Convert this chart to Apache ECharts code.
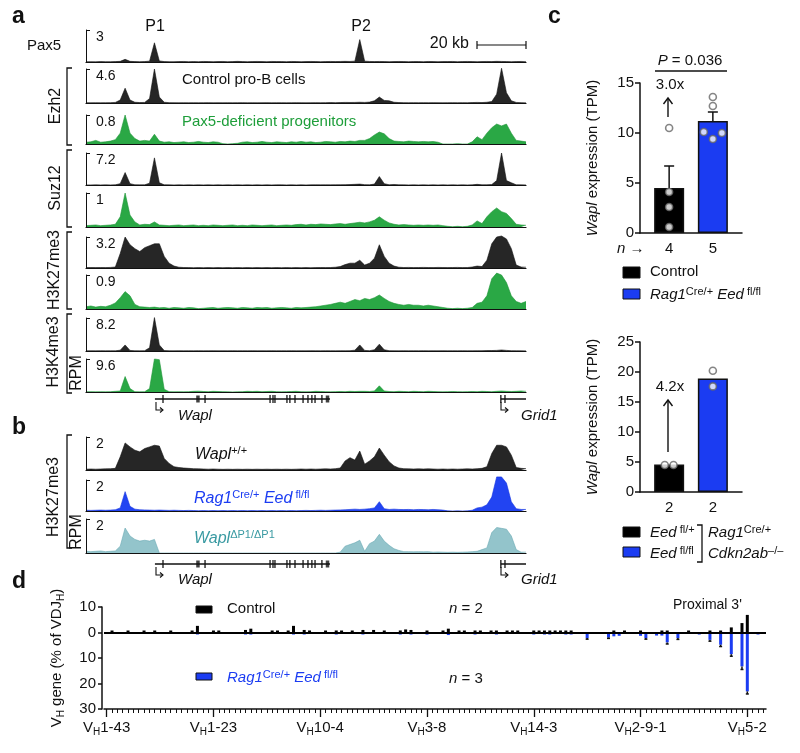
<!DOCTYPE html>
<html>
<head>
<meta charset="utf-8">
<script src="https://cdn.jsdelivr.net/npm/echarts@6/dist/echarts.min.js"></script>
<style>
html, body { margin: 0; padding: 0; background: #fff; }
#container { width: 800px; height: 753px; }
</style>
</head>
<body>
<div id="container"></div>
<script>
var FONT = "'Liberation Sans', Arial, Helvetica, sans-serif";
var BIN_KB = 2;

// ---- panel a: coverage (RPM), one value per 2-kb bin ----
var pax5Track = [
  0.02,0.03,0.02,0.04,0.03,0.03,0.04,0.06,0.25,0.06,
  0.04,0.03,0.04,0.08,1.8,0.1,0.04,0.03,0.03,0.04,
  0.05,0.03,0.04,0.03,0.05,0.04,0.03,0.04,0.05,0.03,
  0.04,0.06,0.04,0.03,0.04,0.05,0.04,0.03,0.05,0.04,
  0.04,0.03,0.05,0.04,0.03,0.04,0.05,0.04,0.03,0.04,
  0.05,0.04,0.05,0.06,0.05,0.08,2.1,0.08,0.05,0.04,
  0.05,0.04,0.03,0.04,0.05,0.04,0.03,0.04,0.04,0.03,
  0.05,0.04,0.03,0.04,0.04,0.05,0.03,0.04,0.05,0.04,
  0.03,0.04,0.05,0.04,0.06,0.05,0.04,0.03,0.04,0.05,
  0.04];
var ezh2Ctrl = [
  0.03,0.03,0.04,0.03,0.04,0.05,0.08,0.4,2.0,0.4,
  0.1,0.06,0.08,0.6,4.6,0.8,0.1,0.05,0.04,0.03,
  0.04,0.03,0.04,0.03,0.04,0.05,0.03,0.04,0.03,0.04,
  0.03,0.04,0.05,0.03,0.04,0.03,0.04,0.05,0.03,0.04,
  0.04,0.03,0.04,0.05,0.04,0.03,0.04,0.05,0.04,0.05,
  0.06,0.05,0.06,0.08,0.07,0.08,0.1,0.08,0.12,0.3,
  0.8,0.35,0.3,0.1,0.06,0.05,0.04,0.05,0.04,0.05,
  0.04,0.05,0.04,0.03,0.04,0.05,0.04,0.05,0.04,0.06,
  0.08,0.06,0.1,0.2,1.2,4.7,1.4,0.3,0.08,0.05,
  0.04];
var ezh2Pax5 = [
  0.05,0.06,0.1,0.05,0.06,0.08,0.12,0.3,0.8,0.3,
  0.15,0.08,0.1,0.08,0.27,0.08,0.05,0.06,0.04,0.05,
  0.06,0.04,0.05,0.07,0.05,0.04,0.06,0.05,0.01,0.0,
  0.01,0.02,0.05,0.06,0.04,0.05,0.07,0.05,0.04,0.06,
  0.05,0.04,0.06,0.05,0.07,0.05,0.06,0.04,0.05,0.07,
  0.06,0.05,0.07,0.06,0.08,0.07,0.1,0.1,0.15,0.25,
  0.33,0.28,0.15,0.08,0.07,0.06,0.08,0.07,0.06,0.07,
  0.06,0.07,0.05,0.0,0.0,0.0,0.01,0.0,0.0,0.06,
  0.2,0.12,0.3,0.45,0.55,0.5,0.55,0.3,0.1,0.08,
  0.06];
var suz12Ctrl = [
  0.02,0.02,0.03,0.02,0.03,0.02,0.04,0.3,2.8,0.3,
  0.05,0.03,0.04,0.4,6.1,0.5,0.05,0.03,0.02,0.03,
  0.02,0.03,0.02,0.03,0.02,0.03,0.02,0.03,0.02,0.03,
  0.02,0.03,0.02,0.03,0.02,0.03,0.02,0.03,0.02,0.03,
  0.03,0.02,0.03,0.02,0.03,0.02,0.03,0.04,0.03,0.04,
  0.03,0.05,0.06,0.08,0.1,0.15,0.2,0.08,0.05,0.2,
  1.9,0.3,0.05,0.12,0.04,0.03,0.02,0.03,0.02,0.03,
  0.02,0.03,0.02,0.03,0.02,0.03,0.02,0.03,0.02,0.03,
  0.15,0.04,0.05,0.1,1.0,7.2,1.0,0.5,0.05,0.03,
  0.02];
var suz12Pax5 = [
  0.04,0.05,0.06,0.04,0.05,0.06,0.08,0.3,1.0,0.35,
  0.15,0.06,0.08,0.07,0.15,0.06,0.05,0.04,0.05,0.06,
  0.04,0.05,0.06,0.04,0.05,0.04,0.06,0.05,0.04,0.05,
  0.06,0.04,0.05,0.04,0.06,0.05,0.04,0.05,0.06,0.04,
  0.05,0.06,0.05,0.07,0.08,0.06,0.08,0.07,0.09,0.08,
  0.07,0.09,0.1,0.08,0.1,0.12,0.14,0.12,0.15,0.2,
  0.3,0.2,0.12,0.08,0.06,0.07,0.06,0.05,0.06,0.05,
  0.06,0.05,0.06,0.04,0.02,0.01,0.02,0.01,0.02,0.06,
  0.18,0.1,0.3,0.45,0.56,0.45,0.4,0.25,0.08,0.06,
  0.05];
var k27Ctrl = [
  0.04,0.05,0.04,0.05,0.04,0.06,0.1,1.5,3.2,2.4,
  2.0,1.7,2.1,2.3,2.5,2.5,1.2,0.5,0.2,0.08,
  0.05,0.04,0.03,0.04,0.03,0.04,0.03,0.04,0.03,0.04,
  0.03,0.04,0.03,0.04,0.03,0.04,0.03,0.04,0.03,0.04,
  0.03,0.04,0.03,0.04,0.03,0.04,0.03,0.04,0.05,0.04,
  0.05,0.08,0.15,0.35,0.5,0.5,0.8,0.3,0.5,1.0,
  2.4,1.2,0.5,0.2,0.08,0.05,0.06,0.04,0.05,0.06,
  0.05,0.04,0.06,0.05,0.04,0.05,0.06,0.04,0.05,0.1,
  0.2,0.15,0.8,2.5,3.2,3.3,3.0,2.0,0.3,0.1,
  0.08];
var k27Pax5 = [
  0.06,0.08,0.05,0.07,0.06,0.1,0.16,0.3,0.46,0.35,
  0.12,0.06,0.05,0.04,0.05,0.03,0.04,0.02,0.04,0.03,
  0.02,0.04,0.03,0.01,0.02,0.03,0.04,0.02,0.03,0.04,
  0.03,0.02,0.04,0.03,0.02,0.04,0.03,0.04,0.02,0.03,
  0.04,0.03,0.02,0.04,0.03,0.04,0.05,0.06,0.08,0.1,
  0.12,0.15,0.18,0.15,0.2,0.25,0.22,0.28,0.25,0.3,
  0.37,0.28,0.2,0.15,0.12,0.1,0.12,0.1,0.1,0.08,
  0.1,0.08,0.06,0.04,0.02,0.01,0.02,0.01,0.02,0.04,
  0.15,0.18,0.35,0.8,0.95,0.9,0.7,0.35,0.2,0.15,
  0.2];
var k4Ctrl = [
  0.05,0.06,0.05,0.07,0.05,0.06,0.05,0.2,1.5,0.15,
  0.06,0.05,0.07,0.8,8.3,1.5,0.1,0.06,0.05,0.07,
  0.05,0.06,0.05,0.07,0.05,0.06,0.07,0.05,0.06,0.05,
  0.07,0.05,0.06,0.05,0.07,0.05,0.06,0.05,0.07,0.05,
  0.06,0.05,0.07,0.05,0.06,0.05,0.07,0.06,0.05,0.07,
  0.06,0.05,0.07,0.06,0.08,0.2,1.5,0.15,0.08,0.3,
  1.7,0.3,0.08,0.06,0.05,0.07,0.05,0.06,0.05,0.07,
  0.05,0.06,0.05,0.07,0.05,0.06,0.05,0.07,0.05,0.06,
  0.07,0.08,0.1,0.12,0.15,0.25,0.15,0.08,0.06,0.05,
  0.05];
var k4Pax5 = [
  0.05,0.1,0.05,0.08,0.05,0.1,0.2,0.3,4.5,1.0,
  0.1,0.05,0.08,1.0,9.6,9.4,0.8,0.1,0.05,0.08,
  0.05,0.1,0.2,0.25,0.15,0.1,0.2,0.15,0.1,0.05,
  0.02,0.05,0.1,0.2,0.15,0.2,0.1,0.15,0.2,0.1,
  0.05,0.1,0.15,0.2,0.1,0.05,0.1,0.2,0.15,0.1,
  0.05,0.1,0.15,0.1,0.2,0.15,0.2,0.2,0.15,0.3,
  1.8,0.3,0.15,0.1,0.2,0.15,0.1,0.2,0.15,0.1,
  0.2,0.15,0.1,0.05,0.1,0.15,0.1,0.05,0.1,0.15,
  0.1,0.2,0.15,0.1,0.2,0.3,0.2,0.15,0.2,0.3,
  0.2];
var scalesA = [3, 4.6, 0.8, 7.2, 1, 3.2, 0.9, 8.2, 9.6];

// ---- panel b: H3K27me3 coverage (RPM) ----
var k27WaplWt = [
  0.05,0.06,0.05,0.06,0.07,0.08,0.1,0.8,1.64,1.4,
  1.2,1.1,1.3,1.4,1.5,1.45,0.7,0.4,0.2,0.15,
  0.12,0.1,0.08,0.07,0.06,0.05,0.06,0.05,0.04,0.05,
  0.04,0.05,0.04,0.05,0.04,0.05,0.04,0.05,0.04,0.05,
  0.04,0.05,0.04,0.05,0.06,0.05,0.06,0.05,0.06,0.07,
  0.06,0.08,0.12,0.55,0.75,0.6,1.15,0.35,0.55,0.8,
  1.33,0.9,0.5,0.25,0.12,0.08,0.07,0.06,0.07,0.06,
  0.07,0.06,0.05,0.06,0.05,0.06,0.05,0.06,0.07,0.06,
  0.08,0.1,0.2,1.0,1.5,1.5,1.4,0.9,0.15,0.1,
  0.08];
var k27EedKo = [
  0.05,0.04,0.05,0.06,0.05,0.06,0.08,0.2,1.25,0.3,
  0.12,0.08,0.07,0.06,0.05,0.06,0.05,0.04,0.05,0.04,
  0.03,0.04,0.03,0.02,0.03,0.02,0.03,0.02,0.03,0.02,
  0.03,0.02,0.03,0.02,0.03,0.02,0.03,0.02,0.03,0.02,
  0.03,0.02,0.03,0.02,0.03,0.04,0.03,0.04,0.05,0.04,
  0.05,0.06,0.07,0.08,0.1,0.12,0.1,0.12,0.15,0.2,
  0.6,0.15,0.1,0.12,0.1,0.09,0.1,0.08,0.1,0.09,
  0.08,0.1,0.08,0.06,0.01,0.0,0.01,0.0,0.01,0.05,
  0.2,0.25,0.4,0.9,2.2,2.2,1.8,0.6,0.15,0.1,
  0.1];
var k27WaplDel = [
  0.1,0.08,0.1,0.12,0.08,0.1,0.12,0.4,1.47,1.0,
  0.8,0.7,0.75,0.7,0.8,0,0,0,0,0,
  0,0,0,0,0,0,0,0,0,0,
  0,0,0,0,0,0,0,0,0,0,
  0,0,0,0,0,0,0,0,0,0,
  0,0,0.05,0.4,0.5,0.6,0.75,0.1,0.55,0.7,
  1.1,0.7,0.45,0.25,0.15,0.08,0.08,0.07,0.08,0.07,
  0.08,0.05,0.06,0.05,0.04,0.05,0.04,0.05,0.06,0.08,
  0.1,0.2,0.3,1.2,1.5,1.45,1.4,1.0,0.2,0.05,
  0.05];
var scalesB = [2, 2, 2];

// ---- gene models (kb) ----
var waplBody = [28.2, 99.8];
var waplExons = [31.5, 48.7, 75.3, 76.5, 77.3, 82.2, 83.4, 85.5, 88.8, 90.8, 92.4, 93.7, 96.5];
var waplWideExons = [45.8, 98.8];
var grid1Body = [169.7, 180];
var grid1Exons = [169.7, 171.4];

// ---- panel c ----
var cTopMeans = [4.5, 11.2];
var cTopSemUpper = [6.7, 12.1];
var cTopN = [4, 5];
var cTopCtrlPts = [0.6, 2.6, 4.1, 10.5];
var cTopEedPts = [10.1, 9.4, 10.0, 12.7, 13.6];
var cBotMeans = [4.6, 18.9];
var cBotN = [2, 2];
var cBotCtrlPts = [4.5, 4.5];
var cBotEedPts = [20.2, 17.6];

// ---- panel d: V_H usage (% of VDJ_H), [gene index, value] ----
var NUM_VH = 124;
var dTickLabels = ['1-43', '1-23', '10-4', '3-8', '14-3', '2-9-1', '5-2'];
var ctrlBars = [[1,0.2],[4,0.5],[7,0.2],[9,0.2],[12,0.1],[16,0.3],[17,2.6],[20,0.5],[21,0.5],[26,1.0],
  [27,1.5],[31,0.2],[32,0.2],[34,0.2],[35,2.6],[37,1.0],[38,0.8],[41,0.3],[43,0.8],[44,0.6],
  [46,0.3],[48,1.0],[50,1.0],[52,0.5],[55,0.8],[56,1.2],[57,1.0],[60,0.3],[63,0.3],[64,1.5],
  [66,0.2],[67,0.2],[69,0.5],[70,0.3],[72,0.5],[73,0.5],[75,0.2],[76,0.2],[77,0.2],[80,0.3],
  [81,0.4],[82,0.5],[83,0.5],[84,0.2],[85,0.3],[86,0.5],[87,0.5],[95,0.3],[97,0.2],[100,0.3],
  [104,0.3],[105,0.5],[109,0.3],[113,0.5],[115,0.5],[117,2.0],[119,3.7],[120,6.9]];
var eedBars = [[17,0.5],[26,0.5],[27,0.8],[35,0.8],[37,0.3],[43,0.3],[48,0.4],[55,0.5],[57,0.6],[60,0.8],
  [64,1.0],[69,0.4],[73,0.3],[80,0.3],[82,0.5],[83,0.8],[86,0.3],[87,0.5],[90,2.2],[94,2.0],
  [95,1.5],[96,1.3],[100,1.3],[101,2.2],[103,1.2],[104,1.2],[105,3.9],[107,2.2],[111,0.8],[113,2.9],
  [115,4.8],[117,8.5],[119,13.3],[120,23.1],[122,0.5]];
var eedErr = [[90,0.4],[94,0.3],[101,0.4],[105,0.6],[107,0.5],[113,0.5],[115,0.7],[117,0.8],[119,1.2],[120,1.0]];

// ---------------------------------------------------------------
var COL = {
  black: {fill: '#262626', line: '#111'},
  green: {fill: '#2aa845', line: '#1c9436'},
  blue: {fill: '#2244f2', line: '#1030e0'},
  teal: {fill: '#93c4cb', line: '#6aaab3'}
};
var BLUE = '#1b3cf2';

var chart = echarts.init(document.getElementById('container'), null, {renderer: 'canvas'});

var grids = [], xAxes = [], yAxes = [], series = [];

function addTrack(data, max, col, top, h) {
  var k = grids.length;
  grids.push({left: 86, width: 440, top: top, height: h, outerBoundsMode: 'none'});
  xAxes.push({gridIndex: k, type: 'value', min: 0, max: 180, z: 5,
    axisLine: {show: true, lineStyle: {color: '#111', width: 1.2}},
    axisTick: {show: false}, axisLabel: {show: false}, splitLine: {show: false}});
  yAxes.push({gridIndex: k, type: 'value', min: 0, max: max, interval: max, z: 5,
    axisLine: {show: true, lineStyle: {color: '#111', width: 1}},
    axisTick: {show: true, inside: true, length: 4, lineStyle: {color: '#111', width: 1}},
    axisLabel: {inside: true, margin: 10, showMinLabel: false, showMaxLabel: true,
      verticalAlign: 'top', fontSize: 14, fontFamily: FONT, color: '#111'},
    splitLine: {show: false}});
  series.push({type: 'line', xAxisIndex: k, yAxisIndex: k, silent: true, clip: false,
    symbol: 'none', animation: false,
    data: data.map(function (v, i) { return [i * BIN_KB, v]; }),
    lineStyle: {width: 0.6, color: col.line},
    areaStyle: {color: col.fill, opacity: 1}});
}

function addGene(top) {
  var k = grids.length;
  grids.push({left: 86, width: 440, top: top, height: 10, outerBoundsMode: 'none'});
  xAxes.push({gridIndex: k, type: 'value', min: 0, max: 180, show: false});
  yAxes.push({gridIndex: k, type: 'value', min: -1, max: 1, show: false});
  [waplBody, grid1Body].forEach(function (b) {
    series.push({type: 'line', xAxisIndex: k, yAxisIndex: k, silent: true, symbol: 'none',
      data: [[b[0], 0], [b[1], 0]], lineStyle: {color: '#111', width: 1.5}});
  });
  series.push({type: 'scatter', xAxisIndex: k, yAxisIndex: k, silent: true,
    symbol: 'rect', symbolSize: [1.6, 8], itemStyle: {color: '#111'},
    data: waplExons.concat(grid1Exons).map(function (x) { return [x, 0]; })});
  series.push({type: 'scatter', xAxisIndex: k, yAxisIndex: k, silent: true,
    symbol: 'rect', symbolSize: [3.5, 7], itemStyle: {color: '#111'},
    data: waplWideExons.map(function (x) { return [x, 0]; })});
}

var aTracks = [pax5Track, ezh2Ctrl, ezh2Pax5, suz12Ctrl, suz12Pax5, k27Ctrl, k27Pax5, k4Ctrl, k4Pax5];
var aCols = ['black', 'black', 'green', 'black', 'green', 'black', 'green', 'black', 'green'];
var aTops = [30, 69, 115, 153, 193, 237, 275, 318, 359];
var aHeights = [32, 34, 29, 32, 34, 31, 34, 33, 33];
aTracks.forEach(function (d, i) { addTrack(d, scalesA[i], COL[aCols[i]], aTops[i], aHeights[i]); });
addGene(394);

var bTracks = [k27WaplWt, k27EedKo, k27WaplDel];
var bCols = ['black', 'blue', 'teal'];
var bTops = [437, 480, 519];
var bHeights = [33, 31, 34];
bTracks.forEach(function (d, i) { addTrack(d, scalesB[i], COL[bCols[i]], bTops[i], bHeights[i]); });
addGene(559);

// ---- panel c ----
function errBarRender(capW) {
  return function (params, api) {
    var x = api.value(0);
    var p0 = api.coord([x, api.value(1)]);
    var p1 = api.coord([x, api.value(2)]);
    var st = {stroke: '#111', lineWidth: 1.5};
    return {type: 'group', children: [
      {type: 'line', shape: {x1: p0[0], y1: p0[1], x2: p1[0], y2: p1[1]}, style: st},
      {type: 'line', shape: {x1: p1[0] - capW / 2, y1: p1[1], x2: p1[0] + capW / 2, y2: p1[1]}, style: st}
    ]};
  };
}

function richAxisName() {
  return {
    i: {fontStyle: 'italic', fontSize: 15, fontFamily: FONT, color: '#111'},
    n: {fontSize: 15, fontFamily: FONT, color: '#111'}
  };
}

var BAR_X = [2, 5];
function addBarPanel(top, yMax, means, nLabels, ctrlPts, ctrlJit, eedPts, eedJit, upper) {
  var k = grids.length;
  grids.push({left: 640, width: 102, top: top, height: 150, outerBoundsMode: 'none'});
  xAxes.push({gridIndex: k, type: 'value', min: 0, max: 7,
    axisLine: {show: true, lineStyle: {color: '#111', width: 1.5}},
    axisTick: {show: false}, axisLabel: {show: false}, splitLine: {show: false}});
  yAxes.push({gridIndex: k, type: 'value', min: 0, max: yMax, interval: 5,
    name: '{i|Wapl}{n| expression (TPM)}', nameLocation: 'middle', nameRotate: 90, nameGap: 40,
    nameTextStyle: {fontSize: 15, fontFamily: FONT, color: '#111', rich: richAxisName()},
    axisLine: {show: true, lineStyle: {color: '#111', width: 1.5}},
    axisTick: {show: true, length: 5, lineStyle: {color: '#111', width: 1.5}},
    axisLabel: {fontSize: 15, fontFamily: FONT, color: '#111', margin: 6},
    splitLine: {show: false}});
  series.push({type: 'bar', xAxisIndex: k, yAxisIndex: k, barWidth: 30, silent: true,
    data: means.map(function (m, i) {
      return {value: [BAR_X[i], m], itemStyle: {color: i ? BLUE : '#000', borderColor: '#111', borderWidth: 1.5}};
    }),
    label: {show: true, position: 'bottom', distance: 8, fontSize: 15, fontFamily: FONT, color: '#111',
      formatter: function (p) { return String(nLabels[p.dataIndex]); }}});
  if (upper) {
    series.push({type: 'custom', xAxisIndex: k, yAxisIndex: k, silent: true, renderItem: errBarRender(10),
      data: means.map(function (m, i) { return [BAR_X[i], m, upper[i]]; }), z: 3});
  }
  var pts = ctrlPts.map(function (v, i) { return [BAR_X[0] + ctrlJit[i], v]; })
    .concat(eedPts.map(function (v, i) { return [BAR_X[1] + eedJit[i], v]; }));
  series.push({type: 'scatter', xAxisIndex: k, yAxisIndex: k, silent: true, z: 4,
    symbol: 'circle', symbolSize: 7, data: pts,
    itemStyle: {color: '#fff', borderColor: '#666', borderWidth: 1.6}});
}
addBarPanel(83, 15, cTopMeans, cTopN, cTopCtrlPts, [0, 0, 0, 0], cTopEedPts, [-0.62, 0, 0.62, 0, 0], cTopSemUpper);
addBarPanel(342, 25, cBotMeans, cBotN, cBotCtrlPts, [-0.3, 0.3], cBotEedPts, [0, 0], null);

// ---- panel d ----
var dK = grids.length;
grids.push({left: 104, width: 662, top: 607, height: 102, outerBoundsMode: 'none'});
var vhCats = [];
for (var g = 0; g < NUM_VH; g++) vhCats.push(g % 20 === 0 ? dTickLabels[g / 20] : '');
var dXMain = xAxes.length;
xAxes.push({gridIndex: dK, type: 'category', data: vhCats, position: 'bottom', show: true,
  axisLine: {show: true, onZero: false, lineStyle: {color: '#111', width: 1.5}},
  axisTick: {show: true, interval: 0, alignWithLabel: true, length: 4, lineStyle: {color: '#111', width: 1}},
  axisLabel: {show: true, interval: 0, margin: 10,
    formatter: function (v) { return v ? '{m|V}{s|H}{m|' + v + '}' : ''; },
    rich: {
      m: {fontSize: 15, fontFamily: FONT, color: '#111', lineHeight: 18},
      s: {fontSize: 10, fontFamily: FONT, color: '#111', lineHeight: 6, verticalAlign: 'bottom'}
    }},
  splitLine: {show: false}});
xAxes.push({gridIndex: dK, type: 'category', data: vhCats, position: 'bottom', show: true,
  axisLine: {show: false, onZero: false},
  axisTick: {show: true, alignWithLabel: true, length: 8, lineStyle: {color: '#111', width: 1.3},
    interval: function (i) { return i % 20 === 0; }},
  axisLabel: {show: false}, splitLine: {show: false}});
yAxes.push({gridIndex: dK, type: 'value', min: -30, max: 10, interval: 10, offset: 2,
  name: '{n|V}{s|H}{n| gene (% of VDJ}{s|H}{n|)}', nameLocation: 'middle', nameRotate: 90, nameGap: 36,
  nameTextStyle: {fontSize: 15, fontFamily: FONT, color: '#111', rich: {
    n: {fontSize: 15, fontFamily: FONT, color: '#111', lineHeight: 18},
    s: {fontSize: 10, fontFamily: FONT, color: '#111', lineHeight: 6, verticalAlign: 'bottom'}
  }},
  axisLine: {show: true, lineStyle: {color: '#111', width: 1.5}},
  axisTick: {show: true, length: 4, lineStyle: {color: '#111', width: 1.5}},
  axisLabel: {fontSize: 15, fontFamily: FONT, color: '#111', margin: 6,
    formatter: function (v) { return String(Math.abs(v)); }},
  splitLine: {show: false}});
var dY = yAxes.length - 1;
series.push({type: 'bar', xAxisIndex: dXMain, yAxisIndex: dY, silent: true, barWidth: 3, barGap: '-100%',
  barMinHeight: 2, itemStyle: {color: '#000'}, data: ctrlBars,
  markLine: {silent: true, symbol: 'none', label: {show: false},
    lineStyle: {color: '#000', width: 2, type: 'solid'}, data: [{yAxis: 0}]}});
series.push({type: 'bar', xAxisIndex: dXMain, yAxisIndex: dY, silent: true, barWidth: 3, barGap: '-100%',
  barMinHeight: 2, itemStyle: {color: BLUE},
  data: eedBars.map(function (d) { return [d[0], -d[1]]; })});
var eedLookup = {};
eedBars.forEach(function (d) { eedLookup[d[0]] = d[1]; });
series.push({type: 'custom', xAxisIndex: dXMain, yAxisIndex: dY, silent: true, z: 3,
  renderItem: errBarRender(3),
  data: eedErr.map(function (d) { var v = eedLookup[d[0]]; return [d[0], -v, -(v + d[1])]; })});

// ---- annotations ----
function rich(color, size) {
  size = size || 15;
  var s2 = Math.round(size * 0.7);
  return {
    n: {font: size + 'px ' + FONT, fill: color, lineHeight: size + 3},
    i: {font: 'italic ' + size + 'px ' + FONT, fill: color, lineHeight: size + 3},
    sup: {font: s2 + 'px ' + FONT, fill: color, lineHeight: 6, verticalAlign: 'top'},
    isup: {font: 'italic ' + s2 + 'px ' + FONT, fill: color, lineHeight: 6, verticalAlign: 'top'}
  };
}
function T(x, y, text, o) {
  o = o || {};
  var color = o.color || '#111';
  var size = o.size || 15;
  return {type: 'text', x: x, y: y, rotation: o.rot || 0, silent: true, z: 100,
    style: {text: text, fill: color, font: (o.weight || '') + ' ' + size + 'px ' + FONT,
      align: o.align || 'left', verticalAlign: 'middle', rich: o.rich ? rich(color, size) : undefined}};
}
function L(points, w) {
  return {type: 'polyline', silent: true, z: 100, shape: {points: points},
    style: {stroke: '#111', lineWidth: w || 1.3, fill: null}};
}
function R(x, y, w, h, color) {
  return {type: 'rect', silent: true, z: 100, shape: {x: x, y: y, width: w, height: h},
    style: {fill: color, stroke: '#111', lineWidth: 1}};
}
function geneArrow(x, yLine) {
  return [L([[x, yLine + 3], [x, yLine + 11], [x + 7, yLine + 11]], 1.1),
    L([[x + 4, yLine + 8.5], [x + 7, yLine + 11], [x + 4, yLine + 13.5]], 1.1)];
}
function upArrow(x, y0, y1) {
  return [L([[x, y0], [x, y1]], 1.4), L([[x - 4.5, y1 + 6], [x, y1], [x + 4.5, y1 + 6]], 1.4)];
}

var graphics = [
  T(12, 17, 'a', {size: 23, weight: 'bold'}),
  T(12, 428, 'b', {size: 23, weight: 'bold'}),
  T(548, 17, 'c', {size: 23, weight: 'bold'}),
  T(12, 582, 'd', {size: 23, weight: 'bold'}),
  // panel a labels
  T(27, 46, 'Pax5'),
  T(155, 27, 'P1', {align: 'center', size: 16}),
  T(361, 27, 'P2', {align: 'center', size: 16}),
  T(469, 44, '20 kb', {align: 'right', size: 16}),
  L([[477, 45], [526, 45]], 1.2), L([[477, 41], [477, 49]], 1.2), L([[526, 41], [526, 49]], 1.2),
  T(182, 80, 'Control pro-B cells'),
  T(182, 122, 'Pax5-deficient progenitors', {color: '#1e9e3a'}),
  L([[72, 68], [67, 68], [67, 145], [72, 145]], 1.3),
  L([[72, 150], [67, 150], [67, 227], [72, 227]], 1.3),
  L([[72, 232], [67, 232], [67, 309], [72, 309]], 1.3),
  L([[72, 314], [67, 314], [67, 393], [72, 393]], 1.3),
  T(56, 106, 'Ezh2', {rot: Math.PI / 2, align: 'center', size: 16}),
  T(56, 188, 'Suz12', {rot: Math.PI / 2, align: 'center', size: 16}),
  T(55, 270, 'H3K27me3', {rot: Math.PI / 2, align: 'center', size: 16}),
  T(54, 352, 'H3K4me3', {rot: Math.PI / 2, align: 'center', size: 16}),
  T(77, 373, 'RPM', {rot: Math.PI / 2, align: 'center', size: 16}),
  T(178, 416, '{i|Wapl}', {rich: true}),
  T(521, 416, '{i|Grid1}', {rich: true}),
  // panel b labels
  L([[72, 435], [67, 435], [67, 548], [72, 548]], 1.3),
  T(54, 497, 'H3K27me3', {rot: Math.PI / 2, align: 'center', size: 16}),
  T(77, 532, 'RPM', {rot: Math.PI / 2, align: 'center', size: 16}),
  T(195, 455, '{i|Wapl}{sup|+/+}', {rich: true, size: 16}),
  T(194, 499, '{i|Rag1}{sup|Cre/+}{i| Eed}{sup| fl/fl}', {rich: true, color: BLUE, size: 16}),
  T(194, 539, '{i|Wapl}{sup|ΔP1/ΔP1}', {rich: true, color: '#3a9aa2', size: 16}),
  T(178, 580, '{i|Wapl}', {rich: true}),
  T(521, 580, '{i|Grid1}', {rich: true}),
  // panel c labels
  T(690, 61, '{i|P}{n| = 0.036}', {rich: true, align: 'center'}),
  L([[655, 71], [727, 71]], 1.5),
  T(670, 85, '3.0x', {align: 'center'}),
  T(617, 249, '{i|n}{n| →}', {rich: true}),
  R(623, 267, 17, 11, '#000'),
  R(623, 289, 17, 10, BLUE),
  T(650, 272, 'Control'),
  T(650, 295, '{i|Rag1}{sup|Cre/+}{i| Eed}{sup| fl/fl}', {rich: true}),
  T(670, 387, '4.2x', {align: 'center'}),
  R(623, 527, 17, 10, '#000'),
  R(623, 547, 17, 10, BLUE),
  T(650, 533, '{i|Eed}{sup| fl/+}', {rich: true}),
  T(650, 554, '{i|Eed}{sup| fl/fl}', {rich: true}),
  L([[697, 525], [702, 525], [702, 562], [697, 562]], 1.3),
  T(708, 533, '{i|Rag1}{sup|Cre/+}', {rich: true}),
  T(708, 554, '{i|Cdkn2ab}{sup|–/–}', {rich: true}),
  // panel d labels
  R(196, 606, 16, 7, '#000'),
  T(227, 609, 'Control'),
  R(196, 673, 16, 7, BLUE),
  T(227, 678, '{i|Rag1}{sup|Cre/+}{i| Eed}{sup| fl/fl}', {rich: true, color: BLUE}),
  T(449, 609, '{i|n}{n| = 2}', {rich: true}),
  T(449, 679, '{i|n}{n| = 3}', {rich: true}),
  T(673, 605, "Proximal 3'", {size: 14})
].concat(geneArrow(156, 399), geneArrow(501, 399), geneArrow(156, 564), geneArrow(501, 564),
  upArrow(668, 117, 98), upArrow(668, 452, 400));

chart.setOption({
  animation: false,
  backgroundColor: '#fff',
  textStyle: {fontFamily: FONT},
  grid: grids,
  xAxis: xAxes,
  yAxis: yAxes,
  series: series,
  graphic: graphics
});
</script>
</body>
</html>
